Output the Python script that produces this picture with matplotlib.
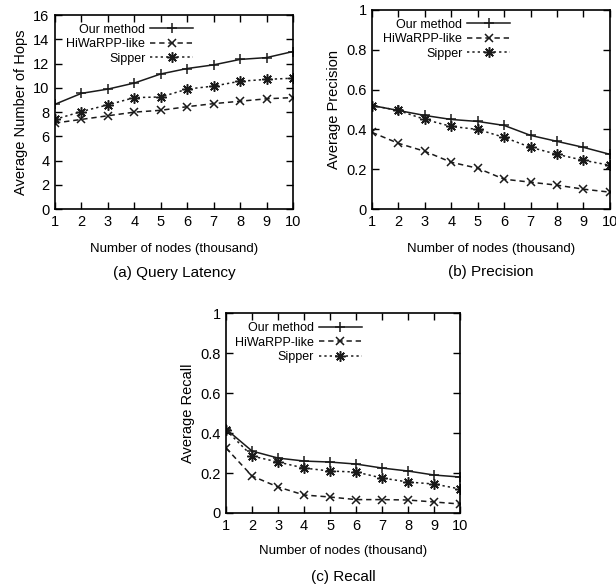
import matplotlib
matplotlib.use("Agg")
import matplotlib.pyplot as plt

plt.rcParams['font.family'] = ['Liberation Sans', 'DejaVu Sans']

nodes = [1, 2, 3, 4, 5, 6, 7, 8, 9, 10]
series_names = ['Our method', 'HiWaRPP-like', 'Sipper']

# (a) Query Latency - average number of hops
hops_ours = [8.65, 9.55, 9.9, 10.4, 11.15, 11.6, 11.9, 12.35, 12.5, 13.0]
hops_hiwarpp = [7.1, 7.4, 7.7, 8.0, 8.15, 8.45, 8.7, 8.9, 9.1, 9.2]
hops_sipper = [7.4, 8.05, 8.6, 9.2, 9.25, 9.9, 10.15, 10.55, 10.7, 10.8]

# (b) Precision
prec_ours = [0.52, 0.495, 0.47, 0.45, 0.44, 0.42, 0.37, 0.34, 0.31, 0.275]
prec_hiwarpp = [0.385, 0.33, 0.29, 0.235, 0.205, 0.15, 0.135, 0.12, 0.10, 0.085]
prec_sipper = [0.52, 0.495, 0.45, 0.415, 0.40, 0.36, 0.31, 0.275, 0.245, 0.22]

# (c) Recall
rec_ours = [0.42, 0.31, 0.275, 0.26, 0.255, 0.245, 0.225, 0.21, 0.19, 0.18]
rec_hiwarpp = [0.325, 0.185, 0.13, 0.09, 0.08, 0.067, 0.067, 0.065, 0.055, 0.045]
rec_sipper = [0.415, 0.285, 0.255, 0.225, 0.21, 0.205, 0.175, 0.155, 0.145, 0.12]

hops_ticks = [0, 2, 4, 6, 8, 10, 12, 14, 16]
frac_ticks = [0, 0.2, 0.4, 0.6, 0.8, 1]
frac_labels = ['0', '0.2', '0.4', '0.6', '0.8', '1']

styles = [
    dict(ls='-', marker='+', ms=7.5),
    dict(ls=(0, (3.5, 2.5)), marker='x', ms=6),
    dict(ls=(0, (1.5, 2)), marker=(8, 2, 0), ms=7.5),
]

fig = plt.figure(figsize=(6.16, 5.84), dpi=100)


def draw_panel(rect, ys, ylabel, yticks, ylabels, ylim, caption,
               xlabel_pad, caption_y):
    ax = fig.add_axes(rect)
    for y, name, st in zip(ys, series_names, styles):
        ax.plot(nodes, y, color='#1a1a1a', lw=1.1, mew=1.1, label=name, **st)
    ax.set_xlim(1, 10)
    ax.set_ylim(*ylim)
    ax.set_xticks(nodes)
    ax.set_yticks(yticks)
    if ylabels is not None:
        ax.set_yticklabels(ylabels)
    ax.tick_params(direction='in', top=True, right=True, length=5,
                   width=1, labelsize=10.5, pad=4)
    for sp in ax.spines.values():
        sp.set_linewidth(1.2)
    ax.set_xlabel('Number of nodes (thousand)', fontsize=9.5,
                  labelpad=xlabel_pad)
    ax.set_ylabel(ylabel, fontsize=10.5, labelpad=4)
    ax.text(0.5, caption_y, caption, transform=ax.transAxes, ha='center',
            va='center', fontsize=11)
    ax.legend(loc='upper right', bbox_to_anchor=(0.595, 0.975),
              markerfirst=False, frameon=False, fontsize=9,
              handlelength=3.4, handletextpad=0.4, labelspacing=0.2,
              borderaxespad=0.0, borderpad=0.3)
    return ax


draw_panel([0.0893, 0.642, 0.3863, 0.332],
           [hops_ours, hops_hiwarpp, hops_sipper],
           'Average Number of Hops', hops_ticks, None, (0, 16),
           '(a) Query Latency', 10, -0.33)
draw_panel([0.604, 0.642, 0.386, 0.341],
           [prec_ours, prec_hiwarpp, prec_sipper],
           'Average Precision', frac_ticks, frac_labels, (0, 1),
           '(b) Precision', 10, -0.317)
draw_panel([0.367, 0.1216, 0.380, 0.342],
           [rec_ours, rec_hiwarpp, rec_sipper],
           'Average Recall', frac_ticks, frac_labels, (0, 1),
           '(c) Recall', 9, -0.32)

fig.savefig('out.png', dpi=100)
